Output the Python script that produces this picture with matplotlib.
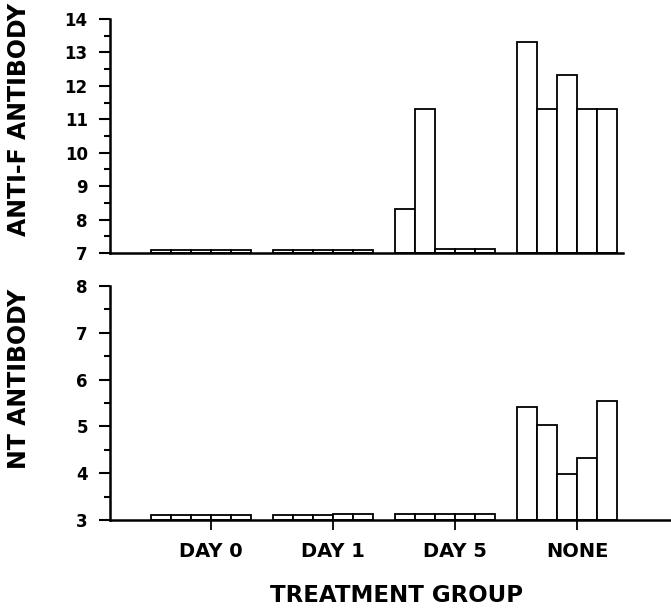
import numpy as np
import matplotlib
matplotlib.use('Agg')
from matplotlib import pyplot as plt
from matplotlib.ticker import MultipleLocator

# 数据
groups = ["DAY 0", "DAY 1", "DAY 5", "NONE"]
anti_f = [
    [7.08, 7.1, 7.1, 7.1, 7.1],
    [7.1, 7.1, 7.1, 7.1, 7.1],
    [8.32, 11.32, 7.12, 7.12, 7.12],
    [13.32, 11.32, 12.32, 11.32, 11.32],
]
nt = [
    [3.1, 3.1, 3.1, 3.1, 3.1],
    [3.1, 3.1, 3.1, 3.12, 3.12],
    [3.12, 3.12, 3.12, 3.12, 3.12],
    [5.42, 5.02, 3.98, 4.32, 5.54],
]
anti_f_ticks = list(range(7, 15))
nt_ticks = list(range(3, 9))

plt.rcParams['font.family'] = ['DejaVu Sans']
plt.rcParams['font.weight'] = 'bold'

# 设置图形大小
fig = plt.figure(figsize=(6.71, 6.10), dpi=100)
W, H = 671, 610
ax1 = fig.add_axes([110 / W, 357 / H, 513 / W, 234 / H])
ax2 = fig.add_axes([110 / W, 90 / H, 561 / W, 234 / H])

bar_w = 0.164
offsets = -0.495 + (np.arange(5) + 0.5) * bar_w

for ax, data, ticks in [(ax1, anti_f, anti_f_ticks), (ax2, nt, nt_ticks)]:
    base = ticks[0]
    for i, vals in enumerate(data):
        ax.bar(i + offsets, np.array(vals) - base, width=bar_w, bottom=base,
               color='white', edgecolor='black', linewidth=1.3)
    ax.set_ylim(ticks[0], ticks[-1])
    ax.set_yticks(ticks)
    ax.yaxis.set_minor_locator(MultipleLocator(0.5))
    ax.tick_params(axis='y', which='major', direction='out', length=8,
                   width=1.5, pad=8, labelsize=12)
    ax.tick_params(axis='y', which='minor', direction='out', length=4.5,
                   width=1.5)
    for s in ['top', 'right']:
        ax.spines[s].set_visible(False)
    for s in ['left', 'bottom']:
        ax.spines[s].set_linewidth(1.8)

ax1.set_xlim(-101 / 122, 412 / 122)
ax2.set_xlim(-101 / 122, 460 / 122)
ax1.set_xticks([])
ax2.set_xticks(range(len(groups)))
ax2.set_xticklabels(groups, fontsize=14)
ax2.tick_params(axis='x', direction='out', length=7, width=1.3, pad=9)

# 轴标题
fig.text(19 / W, 1 - 119 / H, "ANTI-F ANTIBODY", rotation=90, ha='center',
         va='center', fontsize=17)
fig.text(19 / W, 1 - 379 / H, "NT ANTIBODY", rotation=90, ha='center',
         va='center', fontsize=17)
fig.text(397 / W, 1 - 595 / H, "TREATMENT GROUP", ha='center', va='center',
         fontsize=16.5)

fig.savefig('out.png', dpi=100)
